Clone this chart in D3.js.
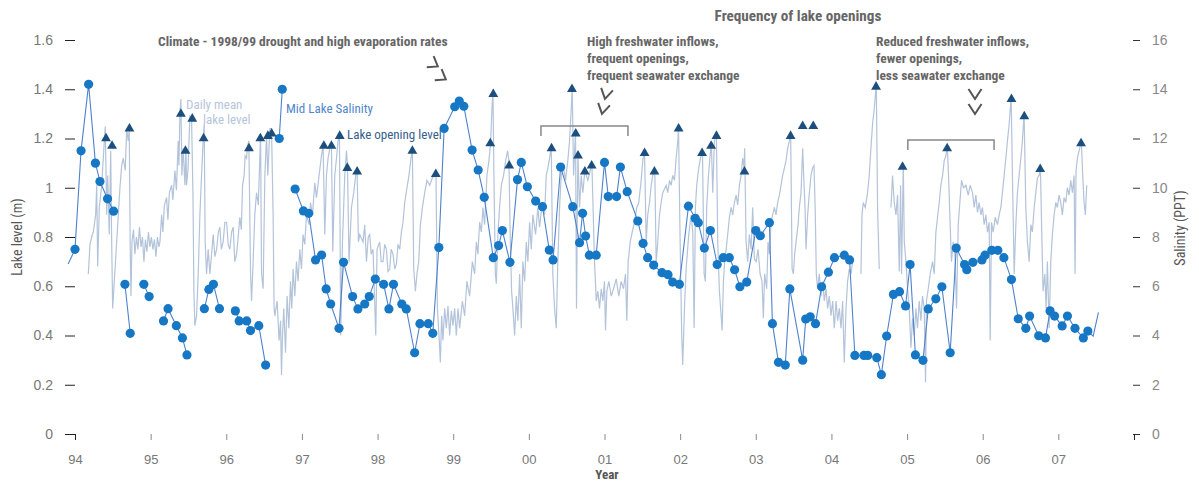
<!DOCTYPE html>
<html><head><meta charset="utf-8">
<script src="https://cdn.jsdelivr.net/npm/d3@7"></script>
<style>
body{margin:0;background:#fff;}
svg{display:block;font-family:"Liberation Sans Narrow","Roboto Condensed","DejaVu Sans Condensed",sans-serif;}
</style></head><body>
<svg id="c" width="1199" height="483"></svg>
<script>
// ---------- DATA ----------
const yearTicks = [1994,1995,1996,1997,1998,1999,2000,2001,2002,2003,2004,2005,2006,2007,2008];
const yearLabels = ["94","95","96","97","98","99","00","01","02","03","04","05","06","07",""];
const levelTicks = [0,0.2,0.4,0.6,0.8,1,1.2,1.4,1.6];
const salinityTicks = [0,2,4,6,8,10,12,14,16];

// Daily mean lake level (m): [year, level]; null = gap in record
const lakeLevel = [
[1994.176,0.65],[1994.198,0.77],[1994.229,0.81],[1994.242,0.82],[1994.273,0.89],[1994.287,1.01],[1994.300,0.68],[1994.321,0.92],[1994.353,1.01],[1994.374,1.12],[1994.400,1.25],[1994.419,0.89],[1994.432,1.05],[1994.453,0.81],[1994.472,1.15],[1994.485,0.78],[1994.498,0.51],
[1994.594,1.00],[1994.617,1.09],[1994.638,1.12],[1994.664,1.07],[1994.683,1.24],[1994.704,1.19],[1994.717,1.24],[1994.730,0.75],[1994.740,0.56],[1994.753,0.78],
[1994.773,0.83],[1994.792,0.73],[1994.812,0.80],[1994.832,0.75],[1994.852,0.84],[1994.872,0.76],[1994.892,0.80],[1994.911,0.70],[1994.931,0.79],[1994.951,0.74],[1994.971,0.82],[1994.991,0.76],[1995.010,0.80],[1995.030,0.75],[1995.050,0.79],[1995.070,0.72],[1995.090,0.80],[1995.109,0.76],
[1995.123,0.78],[1995.145,0.89],[1995.162,0.82],[1995.182,0.93],[1995.211,0.96],[1995.228,0.87],[1995.248,0.98],[1995.277,1.01],[1995.294,0.95],[1995.321,1.07],[1995.341,0.99],[1995.364,1.19],[1995.374,1.09],[1995.387,1.30],[1995.400,1.36],[1995.413,1.05],[1995.430,1.16],[1995.453,1.01],[1995.466,1.16],[1995.475,1.01],[1995.493,1.07],[1995.519,1.29],[1995.541,1.28],[1995.559,0.98],[1995.572,0.58],[1995.585,0.44],[1995.607,0.48],[1995.629,0.65],[1995.651,0.89],[1995.673,1.05],[1995.695,1.20],[1995.708,1.26],[1995.721,0.78],[1995.739,0.65],[1995.761,0.75],[1995.783,0.65],
[1995.827,0.81],[1995.849,0.72],[1995.872,0.75],[1995.895,0.82],[1995.915,0.84],[1995.935,0.75],[1995.959,0.78],[1995.981,0.86],[1996.004,0.86],[1996.025,0.77],[1996.047,0.75],[1996.070,0.82],[1996.091,0.84],[1996.113,0.70],[1996.136,0.73],[1996.157,0.80],[1996.179,0.88],[1996.199,0.83],[1996.215,1.01],[1996.236,1.05],[1996.249,1.13],[1996.268,1.12],[1996.281,1.17],[1996.298,1.19],[1996.321,0.65],[1996.334,0.54],[1996.355,0.70],[1996.377,0.89],[1996.400,0.98],[1996.424,0.93],[1996.453,1.22],[1996.466,0.65],[1996.487,0.59],[1996.510,1.05],[1996.532,1.21],[1996.549,1.05],[1996.576,1.24],[1996.598,1.24],[1996.619,0.89],[1996.632,0.51],[1996.642,0.48],[1996.672,0.54],[1996.698,0.38],[1996.717,0.46],[1996.730,0.24],[1996.743,0.40],[1996.760,0.51],[1996.783,0.33],[1996.804,0.56],[1996.827,0.43],[1996.849,0.62],[1996.866,0.51],[1996.883,0.67],[1996.906,0.56],[1996.928,0.70],[1996.949,0.62],[1996.972,0.75],[1996.994,0.67],
[1997.015,0.81],[1997.038,0.77],[1997.060,0.89],[1997.095,0.85],[1997.113,0.94],[1997.140,0.89],[1997.170,1.02],[1997.192,0.96],[1997.227,1.05],[1997.258,1.13],[1997.280,1.17],[1997.302,0.81],[1997.324,1.05],[1997.346,1.12],[1997.368,1.16],[1997.390,1.17],[1997.408,0.74],[1997.434,1.05],[1997.457,1.12],[1997.478,1.19],[1997.496,1.21],[1997.513,0.40],[1997.536,0.78],[1997.566,1.05],[1997.589,1.15],[1997.602,1.09],[1997.623,0.70],[1997.655,0.92],[1997.685,0.98],[1997.711,1.05],[1997.729,1.07],[1997.747,0.78],[1997.764,0.81],[1997.808,0.78],[1997.830,0.85],[1997.853,0.70],[1997.877,0.80],[1997.896,0.81],[1997.916,0.73],[1997.940,0.75],[1997.976,0.40],[1997.993,0.75],
[1998.028,0.78],[1998.048,0.70],[1998.072,0.70],[1998.094,0.77],[1998.117,0.75],[1998.138,0.66],[1998.161,0.67],[1998.180,0.75],[1998.204,0.73],[1998.227,0.67],[1998.249,0.69],[1998.270,0.77],[1998.293,0.75],[1998.315,0.82],[1998.336,0.86],[1998.359,0.94],[1998.389,1.00],[1998.415,1.05],[1998.442,1.12],[1998.460,1.16],[1998.478,0.67],[1998.500,0.58],[1998.521,0.65],[1998.544,0.70],[1998.566,0.85],[1998.593,0.92],[1998.623,0.98],[1998.653,1.03],[1998.689,1.01],[1998.725,1.04],[1998.755,1.05],[1998.772,1.06],[1998.791,0.51],[1998.812,0.40],[1998.830,0.29],[1998.847,0.48],[1998.864,0.38],[1998.887,0.51],[1998.909,0.43],[1998.931,0.52],[1998.953,0.40],[1998.975,0.50],[1998.997,0.44],
[1999.019,0.51],[1999.041,0.40],[1999.063,0.51],[1999.085,0.43],[1999.121,0.54],[1999.151,0.48],[1999.181,0.62],[1999.217,0.56],[1999.253,0.70],[1999.283,0.65],[1999.306,0.78],[1999.327,0.73],[1999.349,0.86],[1999.372,0.82],[1999.393,0.92],[1999.415,0.85],[1999.446,1.05],[1999.472,1.11],[1999.494,1.18],[1999.512,1.32],[1999.525,1.40],[1999.538,1.05],[1999.557,0.65],[1999.570,0.61],[1999.591,0.81],[1999.613,0.92],[1999.636,1.01],[1999.666,1.05],[1999.693,1.11],[1999.719,1.15],[1999.736,1.11],[1999.755,0.78],[1999.772,0.58],[1999.789,0.51],[1999.812,0.40],[1999.834,0.56],[1999.855,0.46],[1999.878,0.65],[1999.900,0.43],[1999.921,0.70],[1999.944,0.62],[1999.966,0.78],[1999.987,0.70],
[2000.010,0.86],[2000.032,0.75],[2000.053,0.89],[2000.089,0.81],[2000.119,0.92],[2000.142,0.84],[2000.177,0.94],[2000.208,0.89],[2000.230,1.05],[2000.251,1.08],[2000.274,1.12],[2000.296,1.17],[2000.317,0.65],[2000.340,0.51],[2000.362,0.43],[2000.383,0.70],[2000.406,0.92],[2000.428,1.05],[2000.459,1.08],[2000.485,1.03],[2000.515,1.11],[2000.538,1.19],[2000.560,1.32],[2000.573,1.41],[2000.591,1.05],[2000.617,1.23],[2000.630,0.51],[2000.648,1.14],[2000.670,0.92],[2000.692,1.05],[2000.714,0.98],[2000.740,1.07],[2000.759,1.05],[2000.780,1.03],[2000.811,1.07],[2000.833,1.10],[2000.868,0.70],[2000.891,0.54],[2000.912,0.58],[2000.934,0.51],[2000.957,0.59],[2000.978,0.54],
[2001.000,0.62],[2001.013,0.42],[2001.031,0.58],[2001.057,0.62],[2001.089,0.56],[2001.119,0.59],[2001.155,0.63],[2001.189,0.56],[2001.221,0.62],[2001.251,0.59],[2001.278,0.65],[2001.295,0.46],[2001.313,0.70],[2001.340,0.78],[2001.366,0.82],[2001.396,0.86],[2001.427,0.92],[2001.453,0.94],[2001.485,1.03],[2001.506,1.11],[2001.529,1.15],[2001.551,0.78],[2001.572,0.89],[2001.595,0.94],[2001.617,1.01],[2001.638,1.05],[2001.665,1.07],[2001.683,0.70],[2001.704,0.78],[2001.727,0.89],[2001.749,0.94],[2001.770,0.98],[2001.815,1.01],[2001.836,0.98],[2001.859,1.03],[2001.881,1.01],[2001.902,1.05],[2001.925,1.03],[2001.947,1.12],[2001.969,1.19],[2001.978,1.25],
[2002.000,0.78],[2002.021,0.40],[2002.034,0.28],[2002.057,0.51],[2002.079,0.67],[2002.114,0.81],[2002.145,0.89],[2002.167,0.82],[2002.185,0.43],[2002.202,0.92],[2002.219,1.01],[2002.246,1.08],[2002.268,1.12],[2002.295,1.15],[2002.317,0.65],[2002.334,0.62],[2002.351,0.92],[2002.374,1.05],[2002.396,1.13],[2002.413,1.18],[2002.431,0.98],[2002.453,1.19],[2002.479,1.22],[2002.497,0.78],[2002.519,0.58],[2002.542,0.48],[2002.555,0.42],[2002.572,0.62],[2002.589,0.70],[2002.608,0.75],[2002.629,0.81],[2002.651,0.88],[2002.674,0.92],[2002.695,0.89],[2002.717,0.94],[2002.740,0.97],[2002.761,0.93],[2002.783,1.01],[2002.806,1.05],[2002.827,1.12],[2002.845,1.08],[2002.853,1.16],[2002.872,0.78],[2002.893,0.70],[2002.915,0.81],[2002.938,0.75],[2002.959,0.92],[2002.981,0.71],
[2003.004,0.70],[2003.030,0.75],[2003.057,0.65],[2003.083,0.62],[2003.100,0.47],[2003.117,0.65],[2003.144,0.59],[2003.162,0.78],[2003.180,0.73],[2003.202,0.86],[2003.223,0.89],[2003.246,0.92],[2003.268,0.89],[2003.289,0.94],[2003.312,0.97],[2003.334,1.01],[2003.355,1.05],[2003.378,1.08],[2003.400,1.11],[2003.421,1.16],[2003.444,1.19],[2003.461,1.22],[2003.480,0.67],[2003.497,0.65],[2003.514,0.73],[2003.532,0.78],[2003.559,0.85],[2003.576,0.92],[2003.598,0.98],[2003.620,1.16],[2003.633,1.05],[2003.651,0.92],[2003.664,0.75],[2003.686,0.89],[2003.708,0.98],[2003.730,1.05],[2003.751,1.08],[2003.770,1.09],[2003.787,0.89],[2003.800,0.65],[2003.817,0.59],[2003.840,0.65],[2003.862,0.56],[2003.884,0.62],[2003.906,0.54],[2003.928,0.59],[2003.950,0.51],[2003.972,0.56],[2003.994,0.48],
[2004.016,0.54],[2004.038,0.43],[2004.061,0.54],[2004.082,0.46],[2004.104,0.51],[2004.127,0.43],[2004.148,0.54],[2004.170,0.29],[2004.193,0.51],[2004.214,0.62],[2004.236,0.67],[2004.259,0.65],[2004.280,0.70],
null,
[2004.390,0.65],[2004.404,0.89],[2004.421,0.94],[2004.447,0.92],[2004.478,0.98],[2004.500,1.05],[2004.522,1.16],[2004.544,1.26],[2004.566,1.32],[2004.593,1.42],[2004.610,0.92],[2004.632,0.67],
null,
[2004.787,0.92],[2004.808,1.05],[2004.830,0.94],[2004.853,0.89],[2004.874,0.97],[2004.897,0.66],[2004.914,1.01],[2004.927,0.65],[2004.950,1.10],[2004.963,0.78],[2004.985,0.70],
[2005.007,0.59],[2005.029,0.51],[2005.051,0.35],[2005.072,0.47],[2005.095,0.40],[2005.117,0.51],[2005.138,0.43],[2005.161,0.54],[2005.183,0.46],[2005.204,0.56],[2005.227,0.51],[2005.244,0.21],[2005.257,0.54],[2005.280,0.59],[2005.306,0.65],[2005.337,0.70],[2005.359,0.65],[2005.381,0.82],[2005.403,0.88],[2005.425,0.94],[2005.447,1.01],[2005.469,1.05],[2005.491,1.11],[2005.513,1.13],[2005.531,1.17],[2005.548,1.05],[2005.570,0.85],[2005.587,0.70],[2005.610,0.78],[2005.632,0.73],[2005.654,0.51],[2005.676,0.85],[2005.698,0.94],[2005.720,1.03],[2005.746,1.00],[2005.778,1.01],[2005.808,0.97],[2005.834,1.01],[2005.865,0.98],[2005.887,0.92],[2005.910,0.97],[2005.931,0.90],[2005.953,0.94],[2005.976,0.89],[2005.997,0.92],
[2006.019,0.85],[2006.042,0.89],[2006.063,0.82],[2006.085,0.86],[2006.099,0.38],[2006.116,0.86],[2006.138,0.82],[2006.165,0.88],[2006.195,0.85],[2006.217,0.89],[2006.240,0.92],[2006.261,0.98],[2006.283,1.05],[2006.306,1.12],[2006.327,1.19],[2006.350,1.26],[2006.376,1.37],[2006.393,1.05],[2006.416,0.65],[2006.438,0.85],[2006.459,0.98],[2006.481,1.05],[2006.504,1.12],[2006.525,1.19],[2006.547,1.30],[2006.570,0.92],[2006.591,0.78],[2006.614,0.70],[2006.636,0.85],[2006.657,0.82],[2006.680,0.92],[2006.702,0.98],[2006.723,1.04],[2006.746,1.05],[2006.763,1.08],[2006.781,0.81],[2006.798,0.58],[2006.821,0.65],[2006.838,0.51],[2006.855,0.70],[2006.878,0.43],[2006.900,0.70],[2006.921,0.81],[2006.944,0.89],[2006.966,0.94],[2006.987,0.92],
[2007.010,0.97],[2007.032,0.94],[2007.053,0.89],[2007.076,0.96],[2007.098,0.94],[2007.119,1.00],[2007.142,0.97],[2007.164,1.03],[2007.186,0.98],[2007.208,1.05],[2007.221,0.65],[2007.234,1.07],[2007.252,1.12],[2007.274,1.15],[2007.304,1.19],[2007.322,1.05],[2007.340,0.94],[2007.357,0.89],[2007.375,1.01]
];

// Mid lake salinity (PPT): [year, ppt]; null = no connecting line
const salinity = [
[1994.00,7.5],[1994.08,11.5],[1994.18,14.2],[1994.27,11.0],[1994.33,10.25],[1994.43,9.55],[1994.51,9.05],
null,
[1994.66,6.08],[1994.73,4.09],
null,
[1994.91,6.08],[1994.98,5.58],
null,
[1995.17,4.59],[1995.23,5.09],[1995.34,4.40],[1995.42,3.90],[1995.48,3.21],
null,
[1995.71,5.09],[1995.77,5.87],[1995.83,6.08],[1995.91,5.09],
null,
[1996.12,5.0],[1996.17,4.59],[1996.27,4.59],[1996.32,4.2],[1996.43,4.40],[1996.52,2.80],
null,
[1996.70,12.0],[1996.74,14.0],
null,
[1996.91,9.95],[1997.02,9.06],[1997.09,8.96],[1997.18,7.07],[1997.26,7.27],[1997.32,5.89],[1997.38,5.28],[1997.49,4.29],[1997.55,6.97],[1997.67,5.58],[1997.74,5.08],[1997.83,5.28],[1997.89,5.58],[1997.97,6.29],
[1998.08,6.08],[1998.15,5.08],[1998.21,6.08],[1998.32,5.28],[1998.38,5.08],[1998.49,3.30],[1998.56,4.48],[1998.67,4.48],[1998.73,4.09],[1998.81,7.57],[1998.88,12.41],
[1999.02,13.29],[1999.08,13.52],[1999.14,13.31],[1999.25,11.53],[1999.33,10.72],[1999.41,9.61],[1999.53,7.16],[1999.60,7.65],[1999.65,8.26],[1999.75,6.97],[1999.85,10.33],[1999.90,11.03],[1999.98,10.04],
[2000.09,9.46],[2000.18,9.23],[2000.27,7.47],[2000.32,7.07],[2000.42,10.84],[2000.58,9.23],[2000.67,7.77],[2000.71,8.96],[2000.75,8.04],[2000.80,7.26],[2000.89,7.26],
[2001.00,11.03],[2001.05,9.64],[2001.16,9.64],[2001.21,10.84],[2001.30,9.84],[2001.44,8.65],[2001.51,7.74],[2001.57,7.16],[2001.65,6.86],[2001.76,6.55],[2001.84,6.47],[2001.90,6.17],[2001.99,6.08],
[2002.11,9.25],[2002.20,8.76],[2002.24,8.58],[2002.32,7.55],[2002.40,8.26],[2002.49,6.88],[2002.57,7.16],[2002.65,7.16],[2002.72,6.67],[2002.79,5.98],[2002.88,6.17],
[2003.00,8.26],[2003.06,8.05],[2003.18,8.58],[2003.22,4.48],[2003.30,2.91],[2003.39,2.80],[2003.45,5.89],[2003.62,3.0],[2003.66,4.67],[2003.72,4.76],[2003.79,4.48],[2003.87,5.98],[2003.96,6.57],
[2004.04,7.16],[2004.17,7.26],[2004.24,7.07],[2004.31,3.19],[2004.43,3.19],[2004.48,3.19],[2004.60,3.10],[2004.66,2.41],[2004.73,3.98],[2004.82,5.67],[2004.90,5.78],[2004.98,5.2],
[2005.04,6.88],[2005.11,3.21],[2005.21,2.99],[2005.28,5.08],[2005.38,5.49],[2005.46,5.98],[2005.57,3.30],[2005.65,7.55],[2005.76,6.88],[2005.79,6.67],[2005.87,6.97],[2005.99,7.07],
[2006.03,7.26],[2006.12,7.46],[2006.20,7.46],[2006.28,7.16],[2006.38,6.27],[2006.47,4.68],[2006.57,4.29],[2006.62,4.79],[2006.74,3.99],[2006.83,3.90],[2006.89,5.0],[2006.95,4.79],
[2007.05,4.39],[2007.12,4.79],[2007.22,4.29],[2007.33,3.90],[2007.39,4.18]
];
// readings joined by the line but not marked with a dot
const salinityLead = [[1993.91,6.9]];
const salinityTail = [[2007.46,3.97],[2007.53,4.94]];

// Lake opening level (m): [year, level]
const openings = [
[1994.41,1.20],[1994.49,1.17],[1994.72,1.24],[1995.40,1.30],[1995.46,1.15],[1995.55,1.28],[1995.70,1.20],
[1996.30,1.16],[1996.45,1.20],[1996.55,1.21],[1996.60,1.22],[1997.29,1.17],[1997.39,1.17],[1997.50,1.21],
[1997.60,1.08],[1997.73,1.065],[1998.46,1.15],[1998.77,1.055],[1999.49,1.18],[1999.53,1.38],[1999.74,1.09],
[2000.30,1.16],[2000.57,1.40],[2000.62,1.22],[2000.65,1.13],[2000.74,1.065],[2000.83,1.09],
[2001.53,1.14],[2001.66,1.065],[2001.98,1.24],[2002.29,1.14],[2002.41,1.17],[2002.48,1.21],[2002.85,1.065],
[2003.46,1.21],[2003.62,1.25],[2003.76,1.25],[2004.59,1.41],[2004.94,1.085],[2005.53,1.16],
[2006.38,1.36],[2006.55,1.29],[2006.76,1.075],[2007.30,1.18]
];

// ---------- DRAW ----------
const svg = d3.select("#c");
const x = d3.scaleLinear().domain([1994,2008]).range([75,1134]);
const y = d3.scaleLinear().domain([0,1.6]).range([434,40]);
const ys = d3.scaleLinear().domain([0,16]).range([434,40]);

const txtGray = "#777";

// left axis
const gL = svg.append("g").attr("transform","translate(75,0)")
  .call(d3.axisLeft(y).tickValues(levelTicks).tickSize(10).tickPadding(12).tickFormat(d=>String(+d.toFixed(1))));
gL.select(".domain").remove();
gL.selectAll("line").attr("stroke","#222");
gL.selectAll("text").attr("fill",txtGray).attr("font-size",14).attr("font-family","inherit");

// right axis
const gR = svg.append("g").attr("transform","translate(1133,0)")
  .call(d3.axisRight(ys).tickValues(salinityTicks).tickSize(7).tickPadding(12).tickFormat(d=>String(d)));
gR.select(".domain").remove();
gR.selectAll("line").attr("stroke","#333");
gR.selectAll("text").attr("fill","#888").attr("font-size",14).attr("font-family","inherit");

// bottom axis
const gB = svg.append("g").attr("transform","translate(0,434)")
  .call(d3.axisBottom(x).tickValues(yearTicks).tickSize(6).tickPadding(15).tickFormat((d,i)=>yearLabels[i]));
gB.select(".domain").remove();
gB.selectAll("line").attr("stroke","#888");
gB.selectAll("line").filter(d=>d===1994||d===2008).attr("stroke","#222");
gB.selectAll("text").attr("fill",txtGray).attr("font-size",13).attr("font-family","inherit");

// axis titles
svg.append("text").attr("transform","translate(22,237) rotate(-90)").attr("text-anchor","middle")
  .attr("fill","#555").attr("font-size",14).text("Lake level (m)");
svg.append("text").attr("transform","translate(1185,228) rotate(-90)").attr("text-anchor","middle")
  .attr("fill","#555").attr("font-size",14).text("Salinity (PPT)");
svg.append("text").attr("x",607).attr("y",479).attr("text-anchor","middle")
  .attr("fill","#555").attr("font-size",13).attr("font-weight","bold").text("Year");

// lake level line
svg.append("path").datum(lakeLevel)
  .attr("fill","none").attr("stroke","#b3c3d9").attr("stroke-width",1.2)
  .attr("d", d3.line().defined(d=>d!==null).x(d=>x(d[0])).y(d=>y(d[1])));

// salinity line
const salLine = [...salinityLead, ...salinity, ...salinityTail];
svg.append("path").datum(salLine)
  .attr("fill","none").attr("stroke","#4f82cc").attr("stroke-width",1.1)
  .attr("d", d3.line().defined(d=>d!==null).x(d=>x(d[0])).y(d=>ys(d[1])));
svg.append("g").selectAll("circle").data(salinity.filter(d=>d!==null)).join("circle")
  .attr("cx",d=>x(d[0])).attr("cy",d=>ys(d[1])).attr("r",4.6).attr("fill","#1677c5");

// openings
svg.append("g").selectAll("path").data(openings).join("path")
  .attr("transform",d=>`translate(${x(d[0])},${y(d[1])})`)
  .attr("d", d3.symbol().type(d3.symbolTriangle).size(42)())
  .attr("fill","#1c4f7e");

// series labels
svg.append("text").attr("x",186).attr("y",109).attr("fill","#b6c5da").attr("font-size",13).text("Daily mean");
svg.append("text").attr("x",203).attr("y",124).attr("fill","#b6c5da").attr("font-size",13).text("lake level");
svg.append("text").attr("x",286).attr("y",113).attr("fill","#4f86cc").attr("font-size",13).text("Mid Lake Salinity");
svg.append("text").attr("x",347).attr("y",139).attr("fill","#35608c").attr("font-size",13).text("Lake opening level");

// annotations
const ann = svg.append("g").attr("fill","#666").attr("font-size",13.5).attr("font-weight","bold");
ann.append("text").attr("x",158).attr("y",46).text("Climate - 1998/99 drought and high evaporation rates");
ann.append("text").attr("x",798).attr("y",21).attr("text-anchor","middle").attr("font-size",15.2).text("Frequency of lake openings");
["High freshwater inflows,","frequent openings,","frequent seawater exchange"].forEach((t,i)=>
  ann.append("text").attr("x",587).attr("y",46+i*17).text(t));
["Reduced freshwater inflows,","fewer openings,","less seawater exchange"].forEach((t,i)=>
  ann.append("text").attr("x",876).attr("y",46+i*17).text(t));

// chevrons
function chevron(cx,cy,w,h,rot){
  svg.append("path")
    .attr("d",`M${-w/2},${-h/2} L0,${h/2} L${w/2},${-h/2}`)
    .attr("transform",`translate(${cx},${cy}) rotate(${rot})`)
    .attr("fill","none").attr("stroke","#555").attr("stroke-width",2);
}
chevron(434,64,13,9,-58); chevron(442,77,13,9,-58);
chevron(606,94,12,10,12); chevron(603,109,12,10,12);
chevron(975,94,13,10,0); chevron(975,109,13,10,0);

// brackets
function bracket(x0,x1,yTop,yBot){
  svg.append("path").attr("d",`M${x0},${yBot} L${x0},${yTop} L${x1},${yTop} L${x1},${yBot}`)
    .attr("fill","none").attr("stroke","#888").attr("stroke-width",1.5);
}
bracket(x(2000.16),x(2001.31),126,136);
bracket(x(2005.01),x(2006.15),140,150);
</script>
</body></html>
